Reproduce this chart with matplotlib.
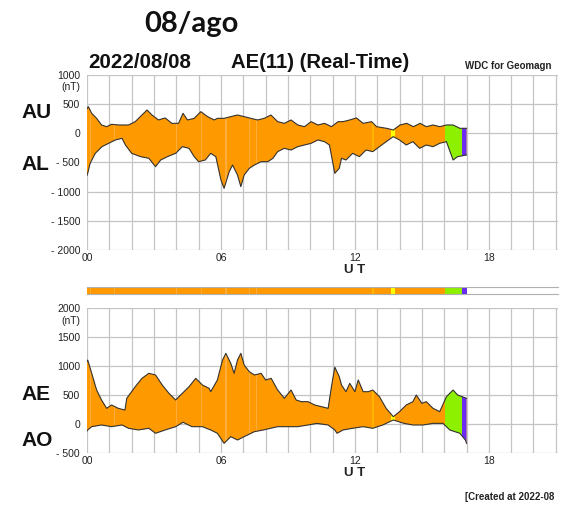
import matplotlib
matplotlib.use('Agg')
import matplotlib.pyplot as plt
import numpy as np

plt.rcParams['font.family'] = ['Liberation Sans', 'DejaVu Sans']

# ---- data (hours UT, nT) ----
au_t = [0.0, 0.06, 0.21, 0.43, 0.65, 0.88, 1.1, 1.4, 1.86, 2.16, 2.46, 2.69, 2.91, 3.2, 3.5, 3.8,
        4.1, 4.3, 4.5, 4.8, 5.1, 5.4, 5.7, 5.84, 6.14, 6.44, 6.74, 7.04, 7.34, 7.64, 7.94, 8.24,
        8.54, 8.84, 9.14, 9.44, 9.74, 10.04, 10.34, 10.64, 10.95, 11.25, 11.47, 11.77, 12.07,
        12.37, 12.75, 12.97, 13.42, 13.72, 14.02, 14.32, 14.62, 14.92, 15.2, 15.5, 15.8, 16.1,
        16.4, 16.7, 17.0]
au_v = [420, 457, 343, 257, 143, 114, 155, 143, 143, 200, 314, 400, 314, 229, 264, 171,
        171, 343, 229, 257, 371, 286, 229, 257, 257, 286, 314, 286, 257, 229, 257, 314,
        200, 171, 229, 143, 114, 200, 143, 171, 114, 200, 200, 229, 264,
        171, 200, 114, 86, 57, 143, 171, 114, 171, 114, 143, 114, 143,
        143, 86, 86]

al_t = [0.0, 0.03, 0.14, 0.37, 0.67, 0.97, 1.27, 1.57, 1.72, 2.0, 2.4, 2.77, 3.07, 3.3, 3.6, 3.97,
        4.27, 4.57, 4.8, 5.0, 5.3, 5.54, 5.77, 6.0, 6.14, 6.37, 6.52, 6.74, 6.89, 7.04, 7.27, 7.5,
        7.8, 8.1, 8.33, 8.54, 8.84, 9.14, 9.44, 9.74, 10.04, 10.34, 10.64, 10.86, 11.1, 11.3, 11.4,
        11.6, 11.9, 12.2, 12.5, 12.8, 13.1, 13.4, 13.72, 14.0, 14.3, 14.6, 14.9, 15.2, 15.5, 15.8,
        16.1, 16.4, 16.6, 17.0]
al_v = [-720, -685, -514, -343, -229, -171, -114, -86, -200, -343, -400, -428, -571, -457, -400, -343,
        -229, -257, -400, -486, -457, -343, -400, -800, -943, -657, -543, -714, -914, -714, -600, -543,
        -486, -486, -428, -314, -257, -286, -229, -200, -171, -114, -143, -200, -686, -600, -428,
        -457, -343, -400, -286, -314, -229, -143, -57, -114, -200, -143, -257, -200, -229, -171,
        -143, -457, -400, -371]

ae_t = [0.0, 0.03, 0.21, 0.43, 0.65, 0.88, 1.1, 1.4, 1.7, 1.78, 2.16, 2.46, 2.77, 3.07, 3.37, 3.67,
        3.97, 4.27, 4.57, 4.87, 5.17, 5.47, 5.54, 5.84, 6.07, 6.22, 6.44, 6.59, 6.74, 6.89, 7.04,
        7.27, 7.5, 7.8, 8.0, 8.25, 8.54, 8.84, 9.14, 9.37, 9.6, 9.9, 10.2, 10.5, 10.8, 10.95, 11.1,
        11.3, 11.4, 11.6, 11.77, 12.0, 12.15, 12.37, 12.6, 12.8, 13.1, 13.4, 13.72, 14.0, 14.3,
        14.6, 14.75, 15.0, 15.2, 15.5, 15.8, 16.1, 16.4, 16.6, 17.0]
ae_v = [1080, 1103, 874, 586, 414, 270, 328, 270, 241, 443, 643, 787, 874, 845, 672, 529,
        414, 529, 643, 787, 672, 615, 557, 759, 1103, 1218, 1046, 874, 1103, 1218, 1017,
        902, 845, 874, 759, 787, 586, 443, 586, 414, 385, 385, 328, 299, 270, 643, 980,
        816, 672, 557, 701, 557, 759, 557, 557, 586, 471, 270, 126, 213, 328,
        385, 500, 356, 385, 270, 213, 471, 586, 500, 443]

ao_t = [0.0, 0.03, 0.21, 0.65, 1.1, 1.57, 1.86, 2.3, 2.77, 3.07, 3.5, 3.97, 4.3, 4.7, 5.17, 5.54,
        5.84, 6.14, 6.44, 6.74, 7.04, 7.5, 7.9, 8.54, 9.0, 9.44, 9.9, 10.3, 10.8, 11.1, 11.2,
        11.47, 11.9, 12.37, 12.8, 13.25, 13.72, 14.2, 14.6, 15.05, 15.5, 15.95, 16.25, 16.7,
        16.95, 17.0]
ao_v = [-120, -103, -46, -17, -46, -17, -74, -103, -74, -160, -103, -46, 30, -46, -46, -103,
        -160, -333, -218, -276, -218, -132, -103, -46, -46, -46, -17, 11, -17, -103, -160,
        -103, -74, -46, -74, -17, 69, 11, -17, -17, 11, 11, -103, -160,
        -276, -333]

# colour coding of the station count along the day
seg_start = [0.0, 12.75, 13.6, 16.05, 16.8]
seg_end = [16.05, 12.85, 13.8, 16.8, 17.0]
seg_color = ['#ff9900', '#ffb400', '#ffff00', '#8cf000', '#6a2cf0']
stripe_t = [0.15, 1.2, 4.0, 5.1, 6.2, 7.25, 7.55]

ORANGE = '#ff9900'
STRIPE = '#ffad3a'
GRID = '#c4c4c4'


def draw_panel(ax, t_up, v_up, t_lo, v_lo, ylim, yticks, ylabels):
    poly = ax.fill(np.concatenate([t_up, t_lo[::-1]]), np.concatenate([v_up, v_lo[::-1]]),
                   color=ORANGE, lw=0, zorder=2)[0]
    for a, b, c in zip(seg_start, seg_end, seg_color):
        r = ax.axvspan(a, b, color=c, lw=0, zorder=2.5)
        r.set_clip_path(poly)
    for s in stripe_t:
        r = ax.axvspan(s, s + 0.05, color=STRIPE, lw=0, zorder=2.5)
        r.set_clip_path(poly)
    ax.plot(t_up, v_up, color='#333333', lw=0.8, zorder=3)
    ax.plot(t_lo, v_lo, color='#333333', lw=0.8, zorder=3)
    ax.set_xlim(0, 21.1)
    ax.set_ylim(*ylim)
    for h in range(22):
        ax.axvline(h, color=GRID, lw=0.9, zorder=1)
    for y in yticks:
        ax.axhline(y, color=GRID, lw=0.9, zorder=1)
    for sp in ax.spines.values():
        sp.set_visible(False)
    ax.set_yticks(yticks)
    ax.set_yticklabels(ylabels)
    ax.set_xticks([0, 6, 12, 18])
    ax.set_xticklabels(['00', '06', '12', '18'])
    ax.tick_params(length=0, labelsize=7.5, colors='#222222')
    ax.tick_params(axis='y', pad=5)
    ax.tick_params(axis='x', pad=2)
    ax.annotate('(nT)', xy=(0, ylim[1]), xycoords=('axes fraction', 'data'),
                xytext=(-5, -9), textcoords='offset points', ha='right', va='center',
                fontsize=7.5, color='#222222')
    ax.annotate('U T', xy=(12, 0), xycoords=('data', 'axes fraction'),
                xytext=(0, -14.5), textcoords='offset points', ha='center', va='center',
                fontsize=9.5, fontweight='bold', color='#222222')


fig = plt.figure(figsize=(5.71, 5.07), dpi=100)

ax1 = fig.add_axes([0.1524, 0.5069, 0.8249, 0.3452])
draw_panel(ax1, np.array(au_t), np.array(au_v), np.array(al_t), np.array(al_v), (-2000, 1000),
           [1000, 500, 0, -500, -1000, -1500, -2000],
           ['1000', '500', '0', '- 500', '- 1000', '- 1500', '- 2000'])

ax2 = fig.add_axes([0.1524, 0.1065, 0.8249, 0.2860])
draw_panel(ax2, np.array(ae_t), np.array(ae_v), np.array(ao_t), np.array(ao_v), (-500, 2000),
           [2000, 1500, 1000, 500, 0, -500],
           ['2000', '1500', '1000', '500', '0', '- 500'])

# colour bar between the panels
axb = fig.add_axes([0.1524, 0.4201, 0.8249, 0.0138])
axb.set_xlim(0, 21.1)
axb.set_ylim(0, 1)
for a, b, c in zip(seg_start, seg_end, seg_color):
    axb.axvspan(a, b, color=c, lw=0)
for s in stripe_t:
    axb.axvspan(s, s + 0.05, color=STRIPE, lw=0)
for sp in ['left', 'right']:
    axb.spines[sp].set_visible(False)
for sp in ['top', 'bottom']:
    axb.spines[sp].set_color('#b0b0b0')
    axb.spines[sp].set_linewidth(0.8)
axb.set_xticks([])
axb.set_yticks([])

# texts
fig.text(0.335, 0.952, '08/ago', fontsize=21, fontweight='bold', family='Lato',
         color='#111111', ha='center', va='center')
fig.text(0.154, 0.877, '2022/08/08', fontsize=14.8, fontweight='bold', color='#111111',
         ha='left', va='center')
fig.text(0.405, 0.877, 'AE(11) (Real-Time)', fontsize=14.6, fontweight='bold', color='#111111',
         ha='left', va='center')
fig.text(0.814, 0.870, 'WDC for Geomagn', fontsize=7, fontweight='bold', color='#222222',
         ha='left', va='center')
fig.text(0.038, 0.779, 'AU', fontsize=15, fontweight='bold', color='#111111', va='center')
fig.text(0.038, 0.675, 'AL', fontsize=15, fontweight='bold', color='#111111', va='center')
fig.text(0.038, 0.221, 'AE', fontsize=15, fontweight='bold', color='#111111', va='center')
fig.text(0.038, 0.132, 'AO', fontsize=15, fontweight='bold', color='#111111', va='center')
fig.text(0.814, 0.020, '[Created at 2022-08', fontsize=7, fontweight='bold', color='#222222',
         ha='left', va='center')

fig.savefig('out.png', dpi=100)
